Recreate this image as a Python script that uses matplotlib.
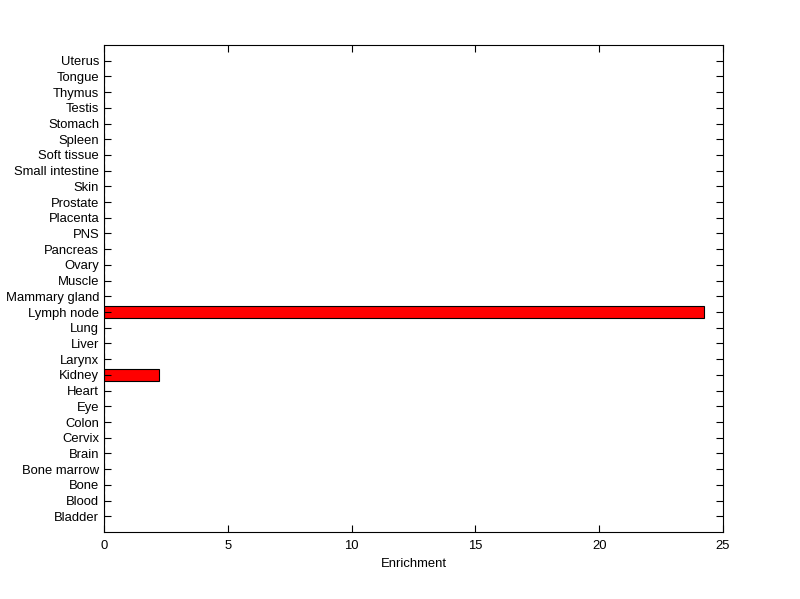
import numpy as np
import matplotlib
matplotlib.use("Agg")
import matplotlib.pyplot as plt

tissues = ["Bladder", "Blood", "Bone", "Bone marrow", "Brain", "Cervix", "Colon",
           "Eye", "Heart", "Kidney", "Larynx", "Liver", "Lung", "Lymph node",
           "Mammary gland", "Muscle", "Ovary", "Pancreas", "PNS", "Placenta",
           "Prostate", "Skin", "Small intestine", "Soft tissue", "Spleen",
           "Stomach", "Testis", "Thymus", "Tongue", "Uterus"]
enrichment = [0, 0, 0, 0, 0, 0, 0, 0, 0, 2.22, 0, 0, 0, 24.23,
              0, 0, 0, 0, 0, 0, 0, 0, 0, 0, 0, 0, 0, 0, 0, 0]
x_ticks = [0, 5, 10, 15, 20, 25]

plt.rcParams['font.family'] = ['Liberation Sans', 'DejaVu Sans']

fig = plt.figure(figsize=(8, 5.99), dpi=100)
ax = fig.add_axes([0.13, 0.1119, 0.77375, 0.813])

pos = np.arange(1, len(tissues) + 1)
ax.barh(pos, enrichment, height=0.8, color='red', edgecolor='black', linewidth=0.8)

ax.set_xlim(0, 25)
ax.set_ylim(0, len(tissues) + 1)
ax.set_xticks(x_ticks)
ax.set_yticks(pos)
ax.set_yticklabels(tissues)
ax.set_xlabel("Enrichment", fontsize=9.4, labelpad=4)
ax.tick_params(direction='in', top=True, right=True, labelsize=9.4, length=5, width=0.8)
ax.tick_params(axis='x', pad=6)
for s in ax.spines.values():
    s.set_linewidth(0.8)

fig.savefig("out.png", dpi=100)
